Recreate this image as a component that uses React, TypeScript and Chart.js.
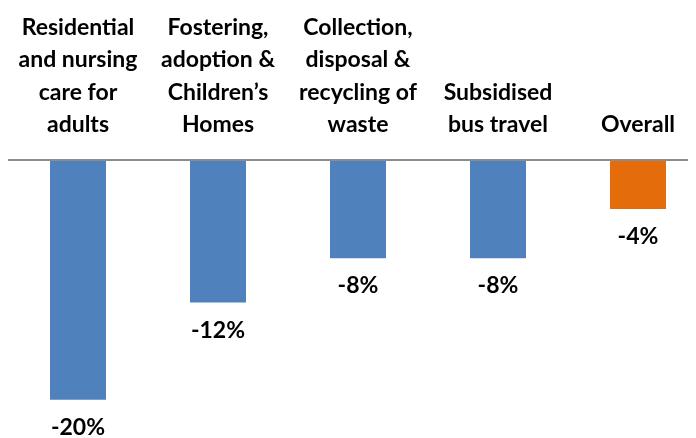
import { useEffect, useRef } from "react";
import { Chart, registerables } from "chart.js";

Chart.register(...registerables);

const categories: string[][] = [
  ["Residential", "and nursing", "care for", "adults"],
  ["Fostering,", "adoption &", "Children’s", "Homes"],
  ["Collection,", "disposal &", "recycling of", "waste"],
  ["Subsidised", "bus travel"],
  ["Overall"],
];
const values: number[] = [-19.9, -11.8, -8.1, -8.1, -4.0];
const valueLabels: string[] = ["-20%", "-12%", "-8%", "-8%", "-4%"];
const barColors: string[] = ["#4F81BD", "#4F81BD", "#4F81BD", "#4F81BD", "#E46C0A"];

const FONT_FAMILY = 'Lato, Carlito, "Open Sans", sans-serif';

export default function App() {
  const canvasRef = useRef<HTMLCanvasElement | null>(null);

  useEffect(() => {
    document.documentElement.style.overflow = "hidden";
    const canvas = canvasRef.current;
    if (!canvas) return;

    const valueLabelPlugin = {
      id: "valueLabels",
      afterDatasetsDraw(chart: any) {
        const ctx = chart.ctx;
        const meta = chart.getDatasetMeta(0);
        ctx.save();
        ctx.font = `bold 23px ${FONT_FAMILY}`;
        ctx.fillStyle = "#000000";
        ctx.textAlign = "center";
        ctx.textBaseline = "alphabetic";
        meta.data.forEach((bar: any, i: number) => {
          ctx.fillText(valueLabels[i], bar.x, bar.y + 35);
        });
        ctx.restore();
      },
    };

    const chart = new Chart(canvas, {
      type: "bar",
      data: {
        labels: categories,
        datasets: [
          {
            data: values,
            backgroundColor: barColors,
            borderWidth: 0,
            barPercentage: 0.4,
            categoryPercentage: 1.0,
          },
        ],
      },
      options: {
        animation: false,
        responsive: false,
        layout: { padding: { top: 0, left: 0, right: 0, bottom: 13 } },
        plugins: {
          legend: { display: false },
          tooltip: { enabled: false },
        },
        scales: {
          x: {
            position: "top",
            grid: { display: false, drawTicks: false },
            border: { display: true, color: "#8c8c8c", width: 2 },
            ticks: {
              color: "#000000",
              font: { family: FONT_FAMILY, size: 23, weight: "bold", lineHeight: 1.41 },
              padding: 19,
              maxRotation: 0,
              minRotation: 0,
              autoSkip: false,
            },
            afterFit(scale: any) {
              scale.height = 152;
              scale.paddingLeft = 0;
              scale.paddingRight = 0;
              scale.paddingTop = 0;
              scale.paddingBottom = 0;
            },
          },
          y: {
            display: false,
            min: -22,
            max: 1 / 12,
          },
        },
      },
      plugins: [valueLabelPlugin],
    });

    return () => {
      chart.destroy();
    };
  }, []);

  return (
    <div style={{ width: 688, height: 430, overflow: "hidden" }}>
      <canvas ref={canvasRef} width={700} height={430} style={{ width: 700, height: 430, display: "block" }} />
    </div>
  );
}
